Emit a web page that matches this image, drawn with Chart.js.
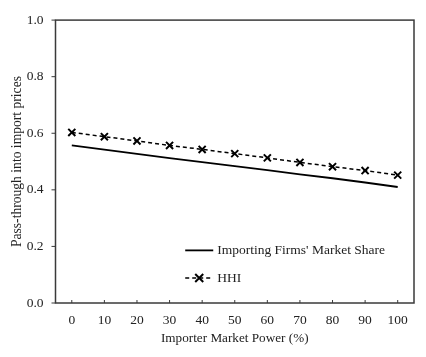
<!DOCTYPE html>
<html>
<head>
<meta charset="utf-8">
<script src="https://cdn.jsdelivr.net/npm/chart.js@4/dist/chart.umd.min.js"></script>
<style>
html,body{margin:0;padding:0;background:#fff;}
#wrap{width:426px;height:357px;position:relative;}
</style>
</head>
<body>
<div id="wrap"><canvas id="c" width="426" height="357"></canvas></div>
<script>
const categories = ['0','10','20','30','40','50','60','70','80','90','100'];
const marketShare = [0.557, 0.542, 0.527, 0.512, 0.498, 0.484, 0.470, 0.455, 0.441, 0.426, 0.410];
const hhi = [0.603, 0.588, 0.573, 0.557, 0.543, 0.528, 0.513, 0.497, 0.482, 0.468, 0.452];
const seriesNames = ["Importing Firms' Market Share", 'HHI'];
const yTicks = [0, 0.2, 0.4, 0.6, 0.8, 1.0];

const FONT = '"Liberation Serif", "Times New Roman", serif';
const INK = '#222';
const FRAME = '#3a3a3a';

const framePlugin = {
  id: 'frame',
  afterDraw(chart) {
    const {ctx, chartArea: a, scales} = chart;
    ctx.save();
    ctx.strokeStyle = FRAME;
    ctx.lineWidth = 1.5;
    ctx.strokeRect(a.left, a.top, a.right - a.left, a.bottom - a.top);
    ctx.lineWidth = 1;
    categories.forEach((c, i) => {
      const x = scales.x.getPixelForValue(i);
      ctx.beginPath(); ctx.moveTo(x, a.bottom); ctx.lineTo(x, a.bottom - 3); ctx.stroke();
    });
    yTicks.forEach(v => {
      const y = scales.y.getPixelForValue(v);
      ctx.beginPath(); ctx.moveTo(a.left - 4, y); ctx.lineTo(a.left, y); ctx.stroke();
    });
    ctx.restore();
  }
};

const legendPlugin = {
  id: 'innerLegend',
  afterDatasetsDraw(chart) {
    const {ctx, scales} = chart;
    const x0 = scales.x.getPixelForValue(3.48);
    const x1 = scales.x.getPixelForValue(4.34);
    const rows = [scales.y.getPixelForValue(0.186), scales.y.getPixelForValue(0.0885)];
    ctx.save();
    chart.data.datasets.forEach((ds, i) => {
      const y = rows[i];
      ctx.strokeStyle = ds.borderColor;
      ctx.lineWidth = ds.borderWidth;
      ctx.setLineDash(ds.borderDash || []);
      ctx.beginPath(); ctx.moveTo(x0, y); ctx.lineTo(x1, y); ctx.stroke();
      ctx.setLineDash([]);
      if (ds.pointStyle === 'crossRot') {
        const cx = (x0 + x1) / 2, r = 4;
        ctx.lineWidth = 2;
        ctx.beginPath();
        ctx.moveTo(cx - r, y - r); ctx.lineTo(cx + r, y + r);
        ctx.moveTo(cx + r, y - r); ctx.lineTo(cx - r, y + r);
        ctx.stroke();
      }
      ctx.fillStyle = INK;
      ctx.font = '13.5px ' + FONT;
      ctx.textBaseline = 'middle';
      ctx.textAlign = 'left';
      ctx.fillText(ds.label, x1 + 4, y);
    });
    ctx.restore();
  }
};

new Chart(document.getElementById('c'), {
  type: 'line',
  data: {
    labels: categories,
    datasets: [
      {
        label: seriesNames[0],
        data: marketShare,
        borderColor: '#000',
        borderWidth: 1.8,
        pointRadius: 0,
        tension: 0,
        fill: false
      },
      {
        label: seriesNames[1],
        data: hhi,
        borderColor: '#000',
        borderWidth: 1.5,
        borderDash: [4, 3],
        pointStyle: 'crossRot',
        pointRadius: 5,
        pointBorderWidth: 2,
        pointBorderColor: '#000',
        tension: 0,
        fill: false
      }
    ]
  },
  options: {
    responsive: false,
    animation: false,
    devicePixelRatio: 1,
    layout: { padding: { top: 15, right: 12, left: 0, bottom: 0 } },
    plugins: { legend: { display: false }, tooltip: { enabled: false } },
    scales: {
      x: {
        type: 'category',
        offset: true,
        grid: { display: false, drawTicks: false },
        border: { display: false },
        ticks: { color: INK, font: { family: FONT, size: 13.5 }, padding: 9, maxRotation: 0 },
        title: { display: true, text: 'Importer Market Power (%)', color: INK, font: { family: FONT, size: 13.2 }, padding: { top: 0, bottom: 11 } },
        afterFit(s) { s.height = 54; }
      },
      y: {
        min: 0, max: 1,
        afterBuildTicks(s) { s.ticks = yTicks.map(v => ({ value: v })); },
        grid: { display: false, drawTicks: false },
        border: { display: false },
        ticks: { color: INK, font: { family: FONT, size: 13.5 }, padding: 12, callback: v => Number(v).toFixed(1) },
        title: { display: true, text: 'Pass-through into import prices', color: INK, font: { family: FONT, size: 13.6 }, padding: { top: 9, bottom: 0 } },
        afterFit(s) { s.width = 55.5; }
      }
    }
  },
  plugins: [framePlugin, legendPlugin]
});
</script>
</body>
</html>
